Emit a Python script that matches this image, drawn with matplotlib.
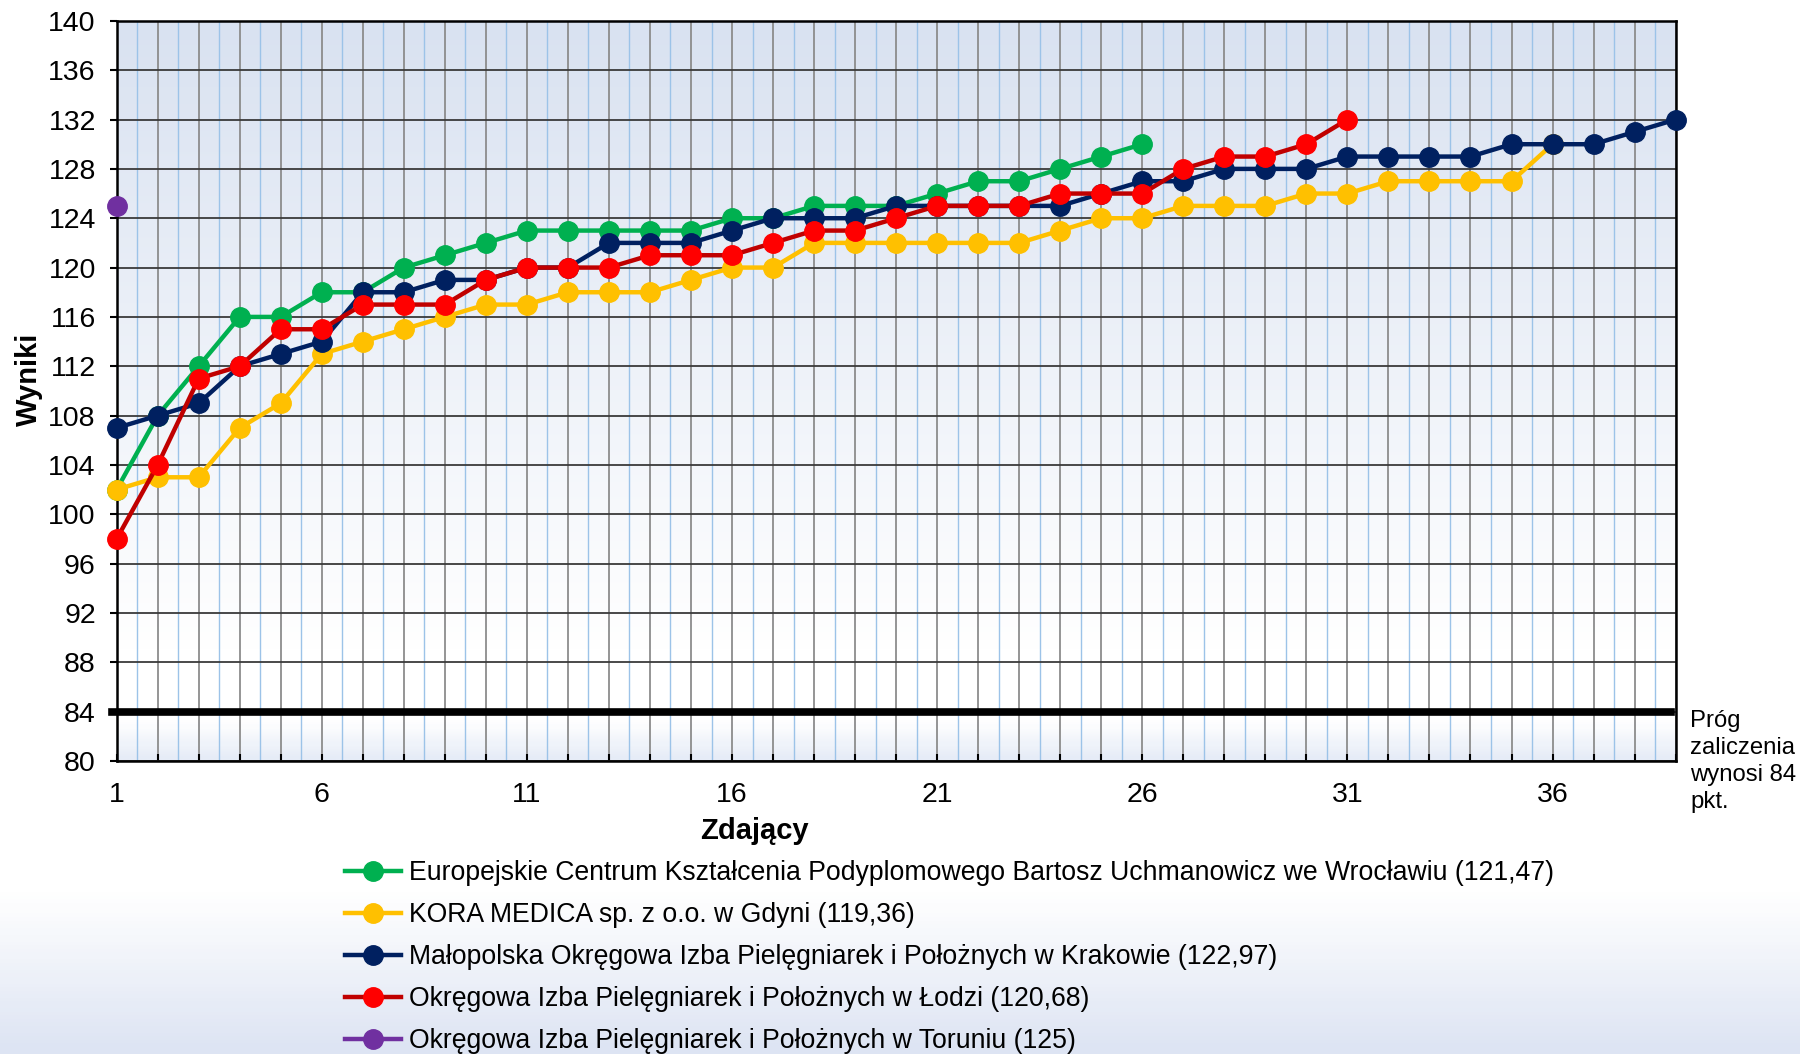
import numpy as np
import matplotlib

matplotlib.use('Agg')
import matplotlib.pyplot as plt
from matplotlib.colors import LinearSegmentedColormap

plt.rcParams['font.family'] = ['Liberation Sans', 'DejaVu Sans']

# wyniki kolejnych zdajacych (posortowane rosnaco)
europejskie = [102, 108, 112, 116, 116, 118, 118, 120, 121, 122, 123, 123, 123, 123, 123,
               124, 124, 125, 125, 125, 126, 127, 127, 128, 129, 130]
kora = [102, 103, 103, 107, 109, 113, 114, 115, 116, 117, 117, 118, 118, 118, 119, 120, 120,
        122, 122, 122, 122, 122, 122, 123, 124, 124, 125, 125, 125, 126, 126, 127, 127, 127,
        127, 130]
krakow = [107, 108, 109, 112, 113, 114, 118, 118, 119, 119, 120, 120, 122, 122, 122, 123, 124,
          124, 124, 125, 125, 125, 125, 125, 126, 127, 127, 128, 128, 128, 129, 129, 129, 129,
          130, 130, 130, 131, 132]
lodz = [98, 104, 111, 112, 115, 115, 117, 117, 117, 119, 120, 120, 120, 121, 121, 121, 122,
        123, 123, 124, 125, 125, 125, 126, 126, 126, 128, 129, 129, 130, 132]
torun = [125]

labels = [
    'Europejskie Centrum Kształcenia Podyplomowego Bartosz Uchmanowicz we Wrocławiu (121,47)',
    'KORA MEDICA sp. z o.o. w Gdyni (119,36)',
    'Małopolska Okręgowa Izba Pielęgniarek i Położnych w Krakowie (122,97)',
    'Okręgowa Izba Pielęgniarek i Położnych w Łodzi (120,68)',
    'Okręgowa Izba Pielęgniarek i Położnych w Toruniu (125)',
]
threshold = 84
threshold_text = 'Próg\nzaliczenia\nwynosi 84\npkt.'

series = [europejskie, kora, krakow, lodz, torun]
line_colors = ['#00B050', '#FFC000', '#002060', '#C00000', '#7030A0']
marker_colors = ['#00B050', '#FFC000', '#002060', '#FF0000', '#7030A0']

fig = plt.figure(figsize=(18, 10.54), dpi=100)

# tlo calej figury - gradient u dolu
bg = fig.add_axes([0, 0, 1, 1], zorder=-10)
bg.axis('off')
grad = np.linspace(0, 1, 300)
bg_cmap = LinearSegmentedColormap.from_list('bg', [(0, '#dde4f3'), (0.15, '#ffffff'), (1, '#ffffff')])
bg.imshow(grad[:, None], aspect='auto', cmap=bg_cmap, origin='lower', extent=[0, 1, 0, 1])
bg.set_xlim(0, 1)
bg.set_ylim(0, 1)

ax = fig.add_axes([0.0648, 0.278, 0.8661, 0.7022])
ax_cmap = LinearSegmentedColormap.from_list(
    'ax', [(0, '#e6ecf7'), (0.05, '#ffffff'), (0.15, '#ffffff'), (1, '#d9e2f1')])
ax.imshow(grad[:, None], aspect='auto', cmap=ax_cmap, origin='lower',
          extent=[1, 39, 80, 140], zorder=0)

ax.set_xlim(1, 39)
ax.set_ylim(80, 140)

xs = np.arange(1, 40)
ax.set_xticks(xs)
ax.set_xticklabels([str(x) if (x - 1) % 5 == 0 else '' for x in xs], fontsize=20.5)
ax.set_xticks(xs[:-1] + 0.5, minor=True)
ax.set_yticks(np.arange(80, 141, 4))
ax.set_yticklabels([str(v) for v in range(80, 141, 4)], fontsize=20.5)
ax.tick_params(axis='x', which='major', direction='in', length=5, width=1.5, pad=15)
ax.tick_params(axis='x', which='minor', length=0)
ax.tick_params(axis='y', direction='out', length=5, width=1.5, pad=10)

ax.grid(axis='x', which='major', color='#8c8c8c', lw=1.3, zorder=1)
ax.grid(axis='x', which='minor', color='#9cc3e8', lw=1.0, zorder=1)
ax.grid(axis='y', which='major', color='#3a3a3a', lw=1.3, zorder=1)
ax.set_axisbelow(True)
for s in ax.spines.values():
    s.set_linewidth(1.8)
    s.set_color('black')

ax.axhline(threshold, xmin=-0.003, xmax=0.997, color='black', lw=5.5, zorder=3, clip_on=False)

for vals, lab, lc, mc in zip(series, labels, line_colors, marker_colors):
    x = np.arange(1, len(vals) + 1)
    ax.plot(x, vals, color=lc, lw=3.2, marker='o', markersize=14, markerfacecolor=mc,
            markeredgecolor=mc, label=lab, zorder=4, clip_on=False)

ax.set_xlabel('Zdający', fontsize=21, fontweight='bold')
ax.xaxis.set_label_coords(0.409, -0.076)
ax.set_ylabel('Wyniki', fontsize=21, fontweight='bold')
ax.yaxis.set_label_coords(-0.047, 0.516)

fig.text(1690 / 1800, 1 - 710 / 1054, threshold_text, fontsize=17.2, va='top', ha='left',
         linespacing=1.29)

fig.legend(loc='upper left', bbox_to_anchor=(345 / 1800, 1 - 860 / 1054), frameon=False,
           fontsize=19.2, handlelength=2.1, handletextpad=0.3, labelspacing=0.6,
           borderpad=0, borderaxespad=0)

fig.savefig('out.png', dpi=100)
